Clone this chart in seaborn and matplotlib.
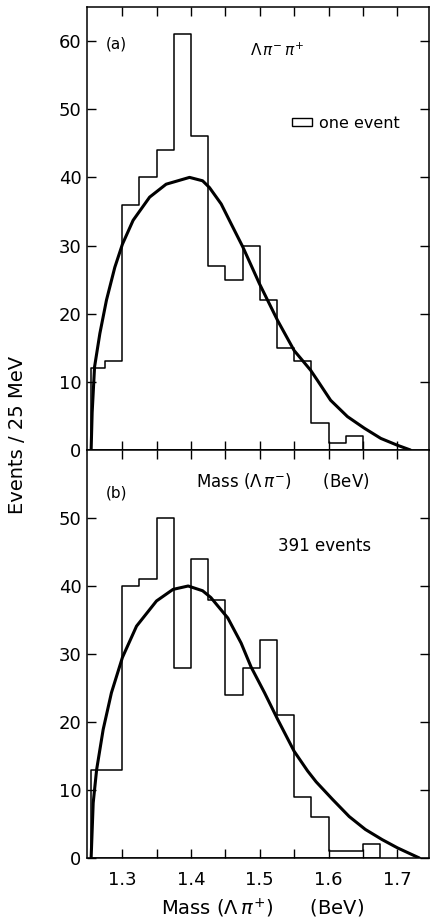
import matplotlib
matplotlib.use("Agg")
import matplotlib.pyplot as plt
from matplotlib.patches import Patch
import numpy as np
import pandas as pd
import seaborn as sns

# 히스토그램 구간 (BeV) - 첫 구간은 문턱값 1.255 부터
edges_a = [1.255, 1.275, 1.300, 1.325, 1.350, 1.375, 1.400, 1.425, 1.450,
           1.475, 1.500, 1.525, 1.550, 1.575, 1.600, 1.625, 1.650]
counts_a = [12, 13, 36, 40, 44, 61, 46, 27, 25, 30, 22, 15, 13, 4, 1, 2]

edges_b = [1.255, 1.275, 1.300, 1.325, 1.350, 1.375, 1.400, 1.425, 1.450,
           1.475, 1.500, 1.525, 1.550, 1.575, 1.600, 1.625, 1.650, 1.675]
counts_b = [13, 13, 40, 41, 50, 28, 44, 38, 24, 28, 32, 21, 9, 6, 1, 1, 2]

# 위상공간 곡선
curve_a_m = [1.255, 1.2565, 1.260, 1.2677, 1.2773, 1.2894, 1.3005, 1.316, 1.340,
             1.364, 1.398, 1.417, 1.427, 1.444, 1.4584, 1.4754, 1.4996, 1.526,
             1.550, 1.574, 1.584, 1.603, 1.6275, 1.652, 1.676, 1.700, 1.719]
curve_a_v = [0, 5.5, 12.2, 17.1, 22.0, 26.8, 30.2, 33.7, 37.1,
             39.0, 40.0, 39.5, 38.5, 36.1, 33.2, 29.8, 24.4, 19.0,
             14.6, 11.7, 10.2, 7.3, 4.9, 3.2, 1.7, 0.7, 0]

curve_b_m = [1.255, 1.258, 1.263, 1.2725, 1.2845, 1.3005, 1.321, 1.350, 1.374,
             1.396, 1.417, 1.429, 1.4536, 1.473, 1.4874, 1.507, 1.526, 1.550,
             1.5696, 1.582, 1.606, 1.630, 1.6535, 1.678, 1.700, 1.717, 1.732]
curve_b_v = [0, 8.1, 13.0, 18.9, 24.3, 29.5, 34.1, 37.8, 39.5,
             40.0, 39.3, 38.3, 35.3, 31.6, 28.1, 24.3, 20.4, 15.7,
             12.8, 11.2, 8.6, 6.1, 4.2, 2.7, 1.5, 0.7, 0]

xticks = [1.30, 1.35, 1.40, 1.45, 1.50, 1.55, 1.60, 1.65, 1.70]
xtick_labels = ['1.3', '', '1.4', '', '1.5', '', '1.6', '', '1.7']
yticks_a = [0, 10, 20, 30, 40, 50, 60]
yticks_b = [0, 10, 20, 30, 40, 50]

sns.set_style("ticks")
plt.rcParams['font.family'] = ['DejaVu Sans']
plt.rcParams['mathtext.fontset'] = 'dejavusans'
plt.rcParams['text.color'] = 'black'

fig = plt.figure(figsize=(4.30, 9.21), dpi=100)
ax_a = fig.add_axes([87/430, 1 - 450/921, 342/430, 443/921])
ax_b = fig.add_axes([87/430, 1 - 858/921, 342/430, 408/921])


def hist_frame(edges, counts):
    df = pd.DataFrame({'left': edges[:-1], 'right': edges[1:], 'n': counts})
    df['mid'] = (df['left'] + df['right']) / 2
    return df


def draw_panel(ax, edges, counts, cm, cv, ymax):
    df = hist_frame(edges, counts)
    sns.histplot(data=df, x='mid', weights='n', bins=edges, element='step',
                 fill=True, color='black', facecolor='none', edgecolor='black',
                 linewidth=1.1, ax=ax)
    sns.lineplot(x=cm, y=cv, color='black', linewidth=2.2, ax=ax)
    ax.set_xlim(1.249, 1.746)
    ax.set_ylim(0, ymax)
    ax.set_xlabel('')
    ax.set_ylabel('')
    for s in ax.spines.values():
        s.set_visible(True)
        s.set_linewidth(1.1)
        s.set_color('black')
    ax.tick_params(direction='in', length=6.5, width=1.0, top=True, right=True,
                   labelsize=13, colors='black', pad=4)
    ax.set_xticks(xticks)


draw_panel(ax_a, edges_a, counts_a, curve_a_m, curve_a_v, 65)
draw_panel(ax_b, edges_b, counts_b, curve_b_m, curve_b_v, 60)

ax_a.set_yticks(yticks_a)
ax_a.set_xticklabels([])
ax_b.set_yticks(yticks_b)
ax_b.set_xticklabels(xtick_labels)
ax_b.tick_params(axis='x', pad=9)

# 글자
ax_a.text(0.085, 0.917, '(a)', transform=ax_a.transAxes, fontsize=11,
          ha='center', va='center')
ax_a.text(0.556, 0.903, r'$\Lambda\,\pi^{-}\,\pi^{+}$', transform=ax_a.transAxes,
          fontsize=11, ha='center', va='center')
ax_a.legend(handles=[Patch(facecolor='none', edgecolor='black', linewidth=1.0,
                           label='one event')],
            loc='center left', bbox_to_anchor=(0.598, 0.738), frameon=False,
            handlelength=1.3, handleheight=0.4, handletextpad=0.4,
            borderpad=0, borderaxespad=0, fontsize=11.5, labelcolor='black')
fig.text(283/430, 1 - 481/921, r'Mass ($\Lambda\,\pi^{-}$)      (BeV)',
         fontsize=12, ha='center', va='center')

ax_b.text(0.085, 0.895, '(b)', transform=ax_b.transAxes, fontsize=11,
          ha='center', va='center')
ax_b.text(0.695, 0.765, '391 events', transform=ax_b.transAxes, fontsize=12,
          ha='center', va='center')
fig.text(263/430, 1 - 908/921, r'Mass ($\Lambda\,\pi^{+}$)      (BeV)',
         fontsize=14, ha='center', va='center')

fig.text(18/430, 1 - 435/921, 'Events / 25 MeV', rotation=90, fontsize=14,
         ha='center', va='center')

fig.savefig('out.png', dpi=100)
